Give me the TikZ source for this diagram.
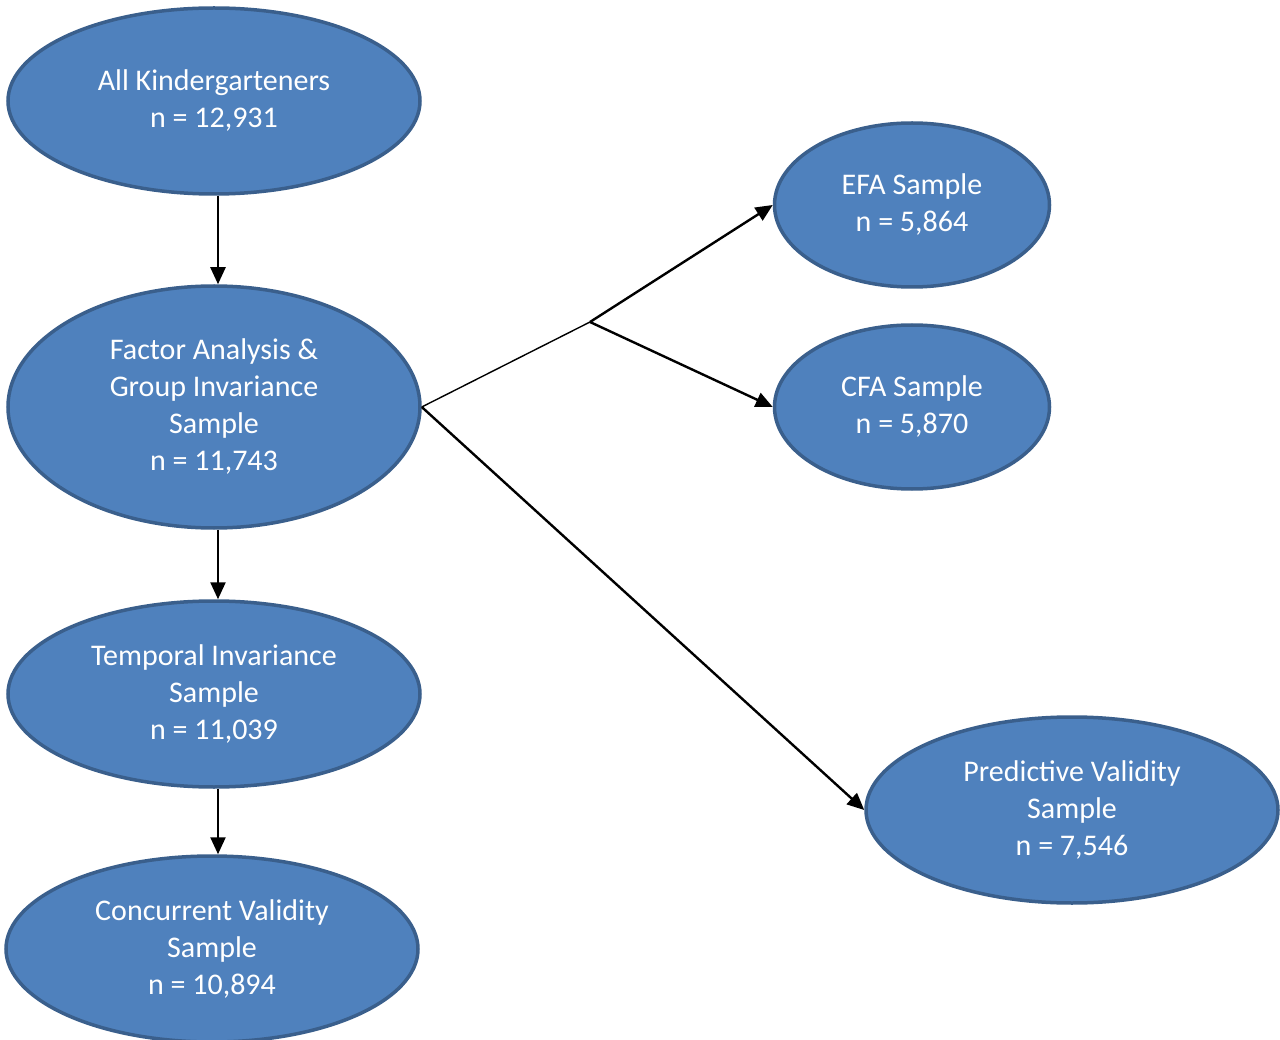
\documentclass[tikz,border=0pt]{standalone}
\usepackage{fontspec}
\setmainfont{Carlito}
\usetikzlibrary{shapes.geometric,arrows.meta}
\definecolor{samplefill}{HTML}{4F81BD}
\definecolor{sampleline}{HTML}{3A5F8C}
\begin{document}
\begin{tikzpicture}[x=1pt, y=-1pt,
  sample/.style={ellipse, draw=sampleline, line width=3.5pt, fill=samplefill, text=white, inner sep=0pt, align=center, font=\fontsize{30}{37}\selectfont},
  big/.style={sample, minimum width=412pt, minimum height=186pt},
  small/.style={sample, minimum width=275pt, minimum height=164pt},
  flow/.style={line width=2.4pt, -{Triangle[length=17pt,width=15pt]}}]
\useasboundingbox (0,0) rectangle (1280,1040);
\node[big] (Kinder) at (214,101) {All Kindergarteners\\n = 12,931};
\node[big, minimum height=242pt] (Factor) at (214,407) {Factor Analysis \&\\Group Invariance\\Sample\\n = 11,743};
\node[big] (Temporal) at (214,694) {Temporal Invariance\\Sample\\n = 11,039};
\node[big] (Concurrent) at (212,949) {Concurrent Validity\\Sample\\n = 10,894};
\node[small] (EFA) at (912,205) {EFA Sample\\n = 5,864};
\node[small] (CFA) at (912,407) {CFA Sample\\n = 5,870};
\node[big] (Predictive) at (1072,810) {Predictive Validity\\Sample\\n = 7,546};
\coordinate (Split) at (590,322);

\draw[flow] ([xshift=4pt]Kinder.south) -- ([xshift=4pt]Factor.north);
\draw[flow] ([xshift=4pt]Factor.south) -- ([xshift=4pt]Temporal.north);
\draw[flow] ([xshift=4pt]Temporal.south) -- ([xshift=6pt]Concurrent.north);
\draw[line width=1.4pt] (Factor.east) -- (Split);
\draw[flow] (Split) -- (EFA.west);
\draw[flow] (Split) -- (CFA.west);
\draw[flow] (Factor.east) -- (Predictive.west);

\end{tikzpicture}
\end{document}
